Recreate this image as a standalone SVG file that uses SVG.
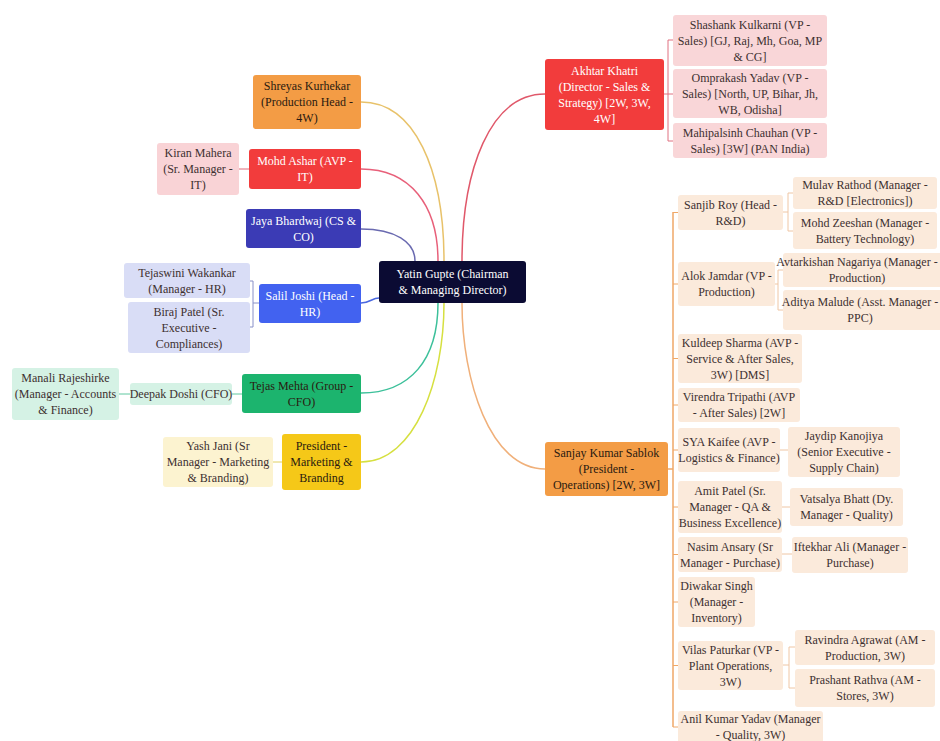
<svg xmlns="http://www.w3.org/2000/svg" width="940" height="741" viewBox="0 0 940 741">
<style>
text{font-family:"Liberation Serif","DejaVu Serif",serif;font-size:12px;text-anchor:middle;fill:#3d3030}
.w text{fill:#ffffff}
.d text{fill:#2a1a10}
rect{rx:3;ry:3}
.c{fill:none;stroke-width:1.5}
.s{fill:none;stroke-width:1}
</style>
<rect x="0" y="0" width="940" height="741" fill="#ffffff" rx="0" ry="0"/>
<g id="connectors">
<path class="c" stroke="#e8c26a" d="M361,102 C415,102 444,170 444,261"/>
<path class="c" stroke="#e8607a" d="M361,169 C410,169 438,205 438,261"/>
<path class="c" stroke="#6a6ab0" d="M361,229 C395,229 415,242 415,261"/>
<path class="c" stroke="#4a68e0" d="M361,303 C370,303 372,298 379,298"/>
<path class="c" stroke="#3cc09a" d="M361,393 C410,393 438,360 438,303"/>
<path class="c" stroke="#d6e040" d="M361,462 C415,462 444,380 444,303"/>
<path class="c" stroke="#e0586a" d="M545,94 C490,94 462,170 462,261"/>
<path class="c" stroke="#f0b07a" d="M545,469 C490,469 462,380 462,303"/>
<path class="s" stroke="#e06878" d="M239,169 H249"/>
<path class="s" stroke="#8890c8" d="M259,303 H253 M250,281 H253 V327 H250"/>
<path class="s" stroke="#60c8a0" d="M232,394 H242 M119,394 H130"/>
<path class="s" stroke="#e0d060" d="M273,462 H282"/>
<path class="s" stroke="#e07080" d="M664,94 H673 M673,40 H668 V141 H673"/>
<path class="c" stroke="#f0a868" d="M668,469 H673 M673,212 V727"/>
<path class="s" stroke="#f0a868" d="M673,212.5 H678 M673,284 H678 M673,358.5 H678 M673,405 H678 M673,450 H678 M673,507 H678 M673,554.5 H678 M673,602 H678 M673,665.5 H678 M673,727 H678"/>
<path class="s" stroke="#efc6a4" d="M783,212 H788 M793,193 H788 V231 H793"/>
<path class="s" stroke="#efc6a4" d="M775,284 H778 M783,270 H778 V310 H783"/>
<path class="s" stroke="#efc6a4" d="M780,450 H788 M782,507 H790 M782,554 H792"/>
<path class="s" stroke="#efc6a4" d="M783,665 H789 M795,647 H789 V688 H795"/>
</g>
<g id="center" class="w"><rect x="379" y="261" width="147" height="42" fill="#0b0b33"/><text x="452.5" y="278">Yatin Gupte (Chairman</text><text x="452.5" y="294">&amp; Managing Director)</text></g>
<g id="shreyas" class="d"><rect x="253" y="75" width="108" height="54" fill="#f39c45"/><text x="307" y="90">Shreyas Kurhekar</text><text x="307" y="106">(Production Head -</text><text x="307" y="122">4W)</text></g>
<g id="kiran"><rect x="157" y="143" width="82" height="52" fill="#f9d3d6"/><text x="198" y="157">Kiran Mahera</text><text x="198" y="173">(Sr. Manager -</text><text x="198" y="189">IT)</text></g>
<g id="ashar" class="w"><rect x="249" y="149" width="112" height="40" fill="#f23c3c"/><text x="305" y="165">Mohd Ashar (AVP -</text><text x="305" y="181">IT)</text></g>
<g id="jaya" class="w"><rect x="246" y="209" width="115" height="39" fill="#3b3bb5"/><text x="303.5" y="224.5">Jaya Bhardwaj (CS &amp;</text><text x="303.5" y="240.5">CO)</text></g>
<g id="salil" class="w"><rect x="259" y="284" width="102" height="39" fill="#4262f0"/><text x="310" y="299.5">Salil Joshi (Head -</text><text x="310" y="315.5">HR)</text></g>
<g id="tejaswini"><rect x="124" y="263" width="126" height="35" fill="#d9ddf6"/><text x="187" y="276.5">Tejaswini Wakankar</text><text x="187" y="292.5">(Manager - HR)</text></g>
<g id="biraj"><rect x="128" y="302" width="122" height="51" fill="#d9ddf6"/><text x="189" y="315.5">Biraj Patel (Sr.</text><text x="189" y="331.5">Executive -</text><text x="189" y="347.5">Compliances)</text></g>
<g id="tejas" class="d"><rect x="242" y="374" width="119" height="39" fill="#1cb46e"/><text x="301.5" y="389.5">Tejas Mehta (Group -</text><text x="301.5" y="405.5">CFO)</text></g>
<g id="deepak"><rect x="130" y="383" width="102" height="22" fill="#d5f2e5"/><text x="181" y="398">Deepak Doshi (CFO)</text></g>
<g id="manali"><rect x="12" y="368" width="107" height="52" fill="#d5f2e5"/><text x="65.5" y="382">Manali Rajeshirke</text><text x="65.5" y="398">(Manager - Accounts</text><text x="65.5" y="414">&amp; Finance)</text></g>
<g id="president" class="d"><rect x="282" y="434" width="79" height="56" fill="#f5c818"/><text x="321.5" y="450">President -</text><text x="321.5" y="466">Marketing &amp;</text><text x="321.5" y="482">Branding</text></g>
<g id="yash"><rect x="163" y="437" width="110" height="50" fill="#fcf3d0"/><text x="218" y="450">Yash Jani (Sr</text><text x="218" y="466">Manager - Marketing</text><text x="218" y="482">&amp; Branding)</text></g>
<g id="akhtar" class="w"><rect x="545" y="59" width="119" height="71" fill="#f23c3c"/><text x="604.5" y="74.5">Akhtar Khatri</text><text x="604.5" y="90.5">(Director - Sales &amp;</text><text x="604.5" y="106.5">Strategy) [2W, 3W,</text><text x="604.5" y="122.5">4W]</text></g>
<g id="shashank"><rect x="673" y="15" width="154" height="51" fill="#f9d6d8"/><text x="750" y="28.5">Shashank Kulkarni (VP -</text><text x="750" y="44.5">Sales) [GJ, Raj, Mh, Goa, MP</text><text x="750" y="60.5">&amp; CG]</text></g>
<g id="omprakash"><rect x="673" y="69" width="154" height="49" fill="#f9d6d8"/><text x="750" y="81.5">Omprakash Yadav (VP -</text><text x="750" y="97.5">Sales) [North, UP, Bihar, Jh,</text><text x="750" y="113.5">WB, Odisha]</text></g>
<g id="mahipal"><rect x="673" y="123" width="154" height="35" fill="#f9d6d8"/><text x="750" y="136.5">Mahipalsinh Chauhan (VP -</text><text x="750" y="152.5">Sales) [3W] (PAN India)</text></g>
<g id="sanjay" class="d"><rect x="545" y="442" width="123" height="54" fill="#f39c45"/><text x="606.5" y="457">Sanjay Kumar Sablok</text><text x="606.5" y="473">(President -</text><text x="606.5" y="489">Operations) [2W, 3W]</text></g>
<g id="sanjib"><rect x="678" y="195" width="105" height="35" fill="#fbeadb"/><text x="730.5" y="208.5">Sanjib Roy (Head -</text><text x="730.5" y="224.5">R&amp;D)</text></g>
<g id="mulav"><rect x="793" y="177" width="144" height="32" fill="#fbeadb"/><text x="865" y="189">Mulav Rathod (Manager -</text><text x="865" y="205">R&amp;D [Electronics])</text></g>
<g id="zeeshan"><rect x="793" y="212" width="144" height="37" fill="#fbeadb"/><text x="865" y="226.5">Mohd Zeeshan (Manager -</text><text x="865" y="242.5">Battery Technology)</text></g>
<g id="alok"><rect x="678" y="262" width="97" height="44" fill="#fbeadb"/><text x="726.5" y="280">Alok Jamdar (VP -</text><text x="726.5" y="296">Production)</text></g>
<g id="avtar"><rect x="783" y="253" width="165" height="34" fill="#fbeadb"/><text x="857" y="266">Avtarkishan Nagariya (Manager -</text><text x="857" y="282">Production)</text></g>
<g id="aditya"><rect x="783" y="290" width="165" height="40" fill="#fbeadb"/><text x="860" y="306">Aditya Malude (Asst. Manager -</text><text x="860" y="322">PPC)</text></g>
<g id="kuldeep"><rect x="678" y="334" width="124" height="49" fill="#fbeadb"/><text x="740" y="346.5">Kuldeep Sharma (AVP -</text><text x="740" y="362.5">Service &amp; After Sales,</text><text x="740" y="378.5">3W) [DMS]</text></g>
<g id="virendra"><rect x="678" y="388" width="122" height="34" fill="#fbeadb"/><text x="739" y="401">Virendra Tripathi (AVP</text><text x="739" y="417">- After Sales) [2W]</text></g>
<g id="kaifee"><rect x="678" y="428" width="102" height="44" fill="#fbeadb"/><text x="729" y="446">SYA Kaifee (AVP -</text><text x="729" y="462">Logistics &amp; Finance)</text></g>
<g id="jaydip"><rect x="788" y="427" width="112" height="50" fill="#fbeadb"/><text x="844" y="440">Jaydip Kanojiya</text><text x="844" y="456">(Senior Executive -</text><text x="844" y="472">Supply Chain)</text></g>
<g id="amit"><rect x="678" y="481" width="104" height="52" fill="#fbeadb"/><text x="730" y="495">Amit Patel (Sr.</text><text x="730" y="511">Manager - QA &amp;</text><text x="730" y="527">Business Excellence)</text></g>
<g id="vatsalya"><rect x="790" y="488" width="113" height="38" fill="#fbeadb"/><text x="846.5" y="503">Vatsalya Bhatt (Dy.</text><text x="846.5" y="519">Manager - Quality)</text></g>
<g id="nasim"><rect x="678" y="537" width="104" height="35" fill="#fbeadb"/><text x="730" y="550.5">Nasim Ansary (Sr</text><text x="730" y="566.5">Manager - Purchase)</text></g>
<g id="iftekhar"><rect x="792" y="537" width="116" height="36" fill="#fbeadb"/><text x="850" y="551">Iftekhar Ali (Manager -</text><text x="850" y="567">Purchase)</text></g>
<g id="diwakar"><rect x="678" y="577" width="77" height="50" fill="#fbeadb"/><text x="716.5" y="590">Diwakar Singh</text><text x="716.5" y="606">(Manager -</text><text x="716.5" y="622">Inventory)</text></g>
<g id="vilas"><rect x="678" y="641" width="105" height="49" fill="#fbeadb"/><text x="730.5" y="653.5">Vilas Paturkar (VP -</text><text x="730.5" y="669.5">Plant Operations,</text><text x="730.5" y="685.5">3W)</text></g>
<g id="ravindra"><rect x="795" y="630" width="140" height="35" fill="#fbeadb"/><text x="865" y="643.5">Ravindra Agrawat (AM -</text><text x="865" y="659.5">Production, 3W)</text></g>
<g id="prashant"><rect x="795" y="669" width="140" height="38" fill="#fbeadb"/><text x="865" y="684">Prashant Rathva (AM -</text><text x="865" y="700">Stores, 3W)</text></g>
<g id="anil"><rect x="678" y="711" width="145" height="32" fill="#fbeadb"/><text x="750.5" y="723">Anil Kumar Yadav (Manager</text><text x="750.5" y="739">- Quality, 3W)</text></g>
</svg>
